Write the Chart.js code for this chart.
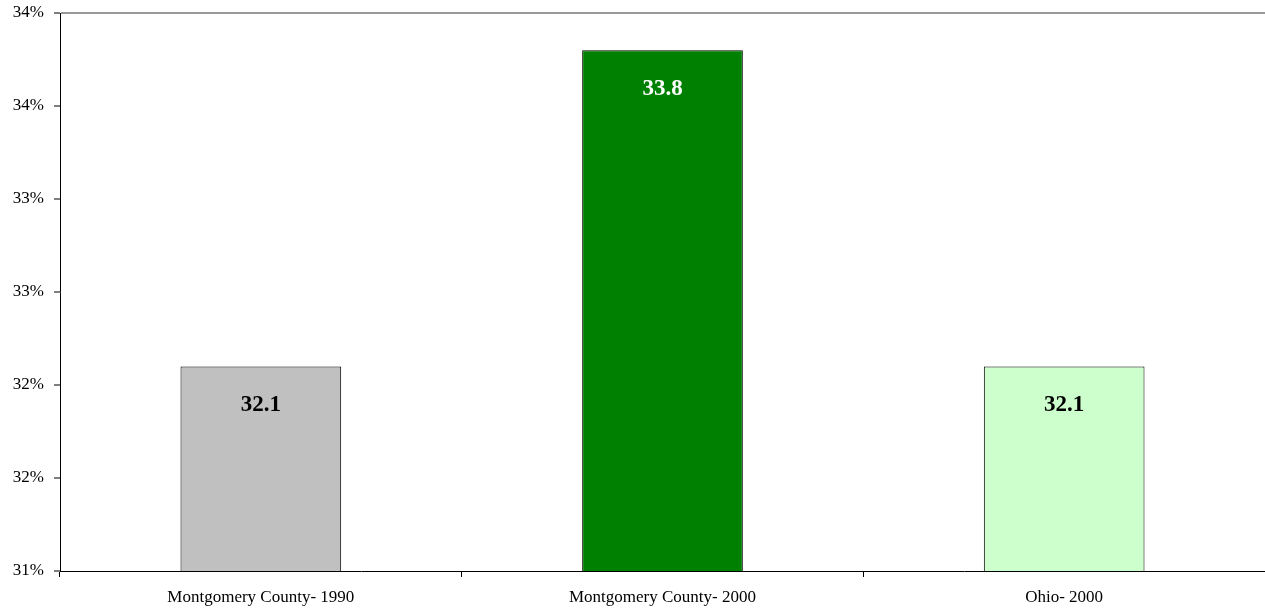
<!DOCTYPE html>
<html>
<head>
<meta charset="utf-8">
<script src="https://cdn.jsdelivr.net/npm/chart.js@4"></script>
<style>
  html, body { margin: 0; padding: 0; background: #fff; }
  canvas { display: block; }
</style>
</head>
<body>
<canvas id="ageChart" width="1265" height="611"></canvas>
<script>
// Chart values
const categories = ["Montgomery County- 1990", "Montgomery County- 2000", "Ohio- 2000"];
const medianValues = [32.1, 33.8, 32.1];
const barColors = ['#C0C0C0', '#008000', '#CCFFCC'];
const labelColors = ['#000000', '#FFFFFF', '#000000'];
const yMin = 31;
const yMax = 34;
const yStep = 0.5;

// Draws the value inside the top of each bar
const valueLabels = {
    id: 'valueLabels',
    afterDatasetsDraw(chart) {
        const ctx = chart.ctx;
        const meta = chart.getDatasetMeta(0);
        ctx.save();
        ctx.font = 'bold 23px "Liberation Serif", "Times New Roman", serif';
        ctx.textAlign = 'center';
        ctx.textBaseline = 'middle';
        meta.data.forEach((bar, i) => {
            ctx.fillStyle = labelColors[i];
            ctx.fillText(medianValues[i].toFixed(1), bar.x, bar.y + 39);
        });
        ctx.restore();
    }
};

function initializeAgeChart() {
    Chart.defaults.font.family = '"Liberation Serif", "Times New Roman", serif';
    Chart.defaults.font.size = 17;
    Chart.defaults.color = '#000';

    const config = {
        type: 'bar',
        data: {
            labels: categories,
            datasets: [{
                data: medianValues,
                backgroundColor: barColors,
                borderColor: '#000',
                borderWidth: 1,
                barPercentage: 0.4,
                categoryPercentage: 1.0,
            }]
        },
        options: {
            responsive: false,
            animation: false,
            devicePixelRatio: 1,
            layout: { padding: { top: 13, right: 0, left: 0, bottom: 0 } },
            plugins: {
                legend: { display: false },
                tooltip: { enabled: false },
            },
            scales: {
                x: {
                    afterFit: (scale) => { scale.height = 40; },
                    grid: {
                        offset: true,
                        drawOnChartArea: false,
                        tickLength: 6,
                        tickColor: '#000',
                    },
                    border: { color: '#000', width: 1 },
                    ticks: { padding: 10, maxRotation: 0, autoSkip: false },
                },
                y: {
                    min: yMin,
                    max: yMax,
                    afterFit: (scale) => {
                        scale.width = 60;
                        scale.paddingTop = 0;
                        scale.paddingBottom = 0;
                    },
                    grid: {
                        // only the top line is drawn across the plot
                        color: (c) => c.tick && c.tick.value === yMax ? '#999999' : 'rgba(0,0,0,0)',
                        lineWidth: 2,
                        tickLength: 6,
                        tickColor: '#000',
                        tickWidth: 1,
                    },
                    border: { color: '#000', width: 1 },
                    ticks: {
                        stepSize: yStep,
                        padding: 10,
                        callback: (v) => Math.round(v) + '%',
                    },
                },
            },
        },
        plugins: [valueLabels],
    };

    const ctx = document.getElementById('ageChart').getContext('2d');
    new Chart(ctx, config);
}

document.addEventListener('DOMContentLoaded', initializeAgeChart);
</script>
</body>
</html>
